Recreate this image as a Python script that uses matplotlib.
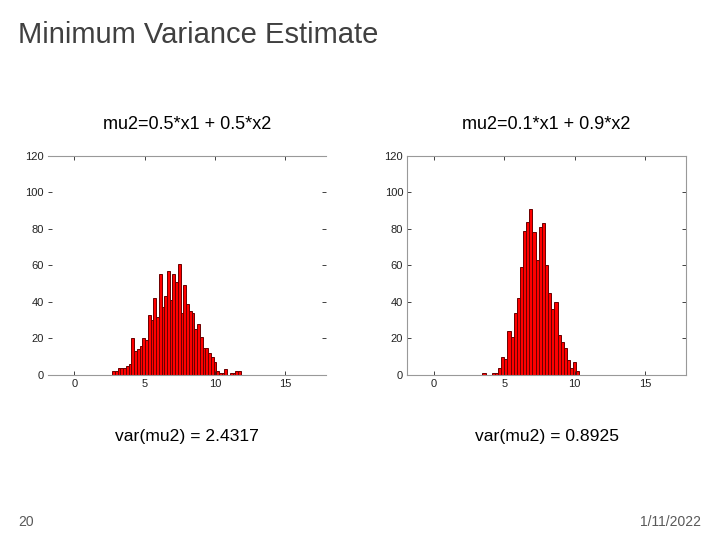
import numpy as np
import matplotlib
matplotlib.use("Agg")
import matplotlib.pyplot as plt

# histogram counts
left_counts = [2, 2, 4, 4, 4, 5, 6, 20, 13, 14, 16, 20, 19, 33, 30, 42, 32, 55, 37, 43,
               57, 41, 55, 51, 61, 34, 49, 39, 35, 34, 25, 28, 21, 15, 15, 12, 10, 7, 2, 1,
               1, 3, 0, 1, 1, 2, 2]
left_range = (2.70, 11.84)

right_counts = [1, 0, 0, 1, 1, 4, 10, 9, 24, 21, 34, 42, 59, 79, 84, 91, 78, 63, 81, 83,
                60, 45, 36, 40, 22, 18, 15, 8, 4, 7, 2]
right_range = (3.44, 10.33)

titles = ["mu2=0.5*x1 + 0.5*x2", "mu2=0.1*x1 + 0.9*x2"]
variances = ["var(mu2) = 2.4317", "var(mu2) = 0.8925"]
xticks = [0, 5, 10, 15]
yticks = [0, 20, 40, 60, 80, 100, 120]

plt.rcParams['font.family'] = ['Liberation Sans', 'DejaVu Sans']

fig = plt.figure(figsize=(7.2, 5.4), dpi=100)
fig.patch.set_facecolor("white")

fig.text(0.025, 0.935, "Minimum Variance Estimate", fontsize=21, color="#404040",
         ha="left", va="center")

axes_pos = [[0.067, 0.3056, 0.386, 0.406], [0.5657, 0.3056, 0.387, 0.406]]
xlims = [(-1.85, 17.9), (-1.9, 17.9)]

for i, (counts, rng) in enumerate([(left_counts, left_range), (right_counts, right_range)]):
    ax = fig.add_axes(axes_pos[i])
    edges = np.linspace(rng[0], rng[1], len(counts) + 1)
    ax.bar(edges[:-1], counts, width=np.diff(edges), align="edge",
           color="#ff0000", edgecolor="#6a0000", linewidth=0.7)
    ax.set_xlim(*xlims[i])
    ax.set_ylim(0, 120)
    ax.set_xticks(xticks)
    ax.set_yticks(yticks)
    ax.tick_params(direction="in", length=3, width=0.6, top=True, right=True,
                   labelsize=8, colors="#222222", pad=3)
    for s in ax.spines.values():
        s.set_color("#999999")
        s.set_linewidth(0.8)
    if i == 0:
        ax.spines["left"].set_visible(False)
        ax.spines["right"].set_visible(False)
    cx = axes_pos[i][0] + axes_pos[i][2] / 2
    fig.text(cx, 0.769, titles[i], fontsize=13, ha="center", va="center", color="black")
    fig.text(cx, 0.191, variances[i], fontsize=12.6, ha="center", va="center", color="black")

fig.text(0.025, 0.033, "20", fontsize=10, color="#595959", ha="left", va="center")
fig.text(0.974, 0.033, "1/11/2022", fontsize=10, color="#595959", ha="right", va="center")

fig.savefig("out.png", dpi=100, facecolor="white")
